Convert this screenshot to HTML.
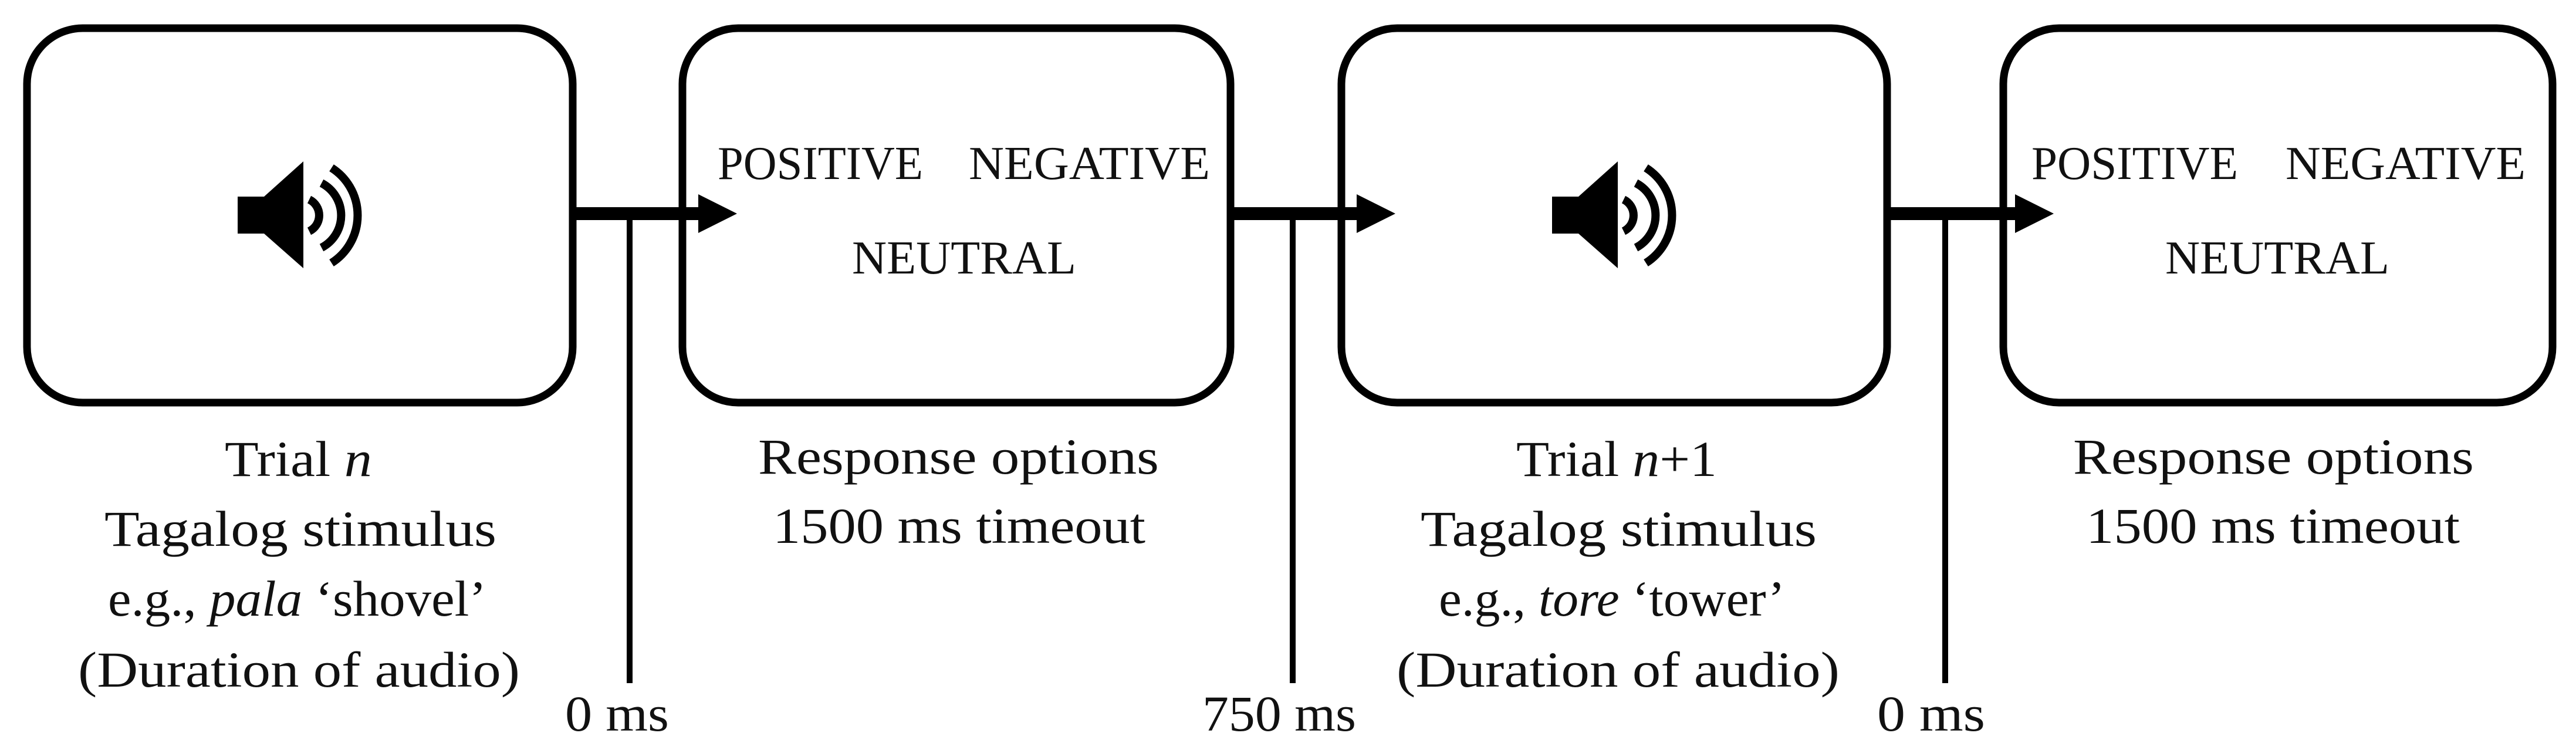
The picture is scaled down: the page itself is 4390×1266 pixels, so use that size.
<!DOCTYPE html>
<html><head><meta charset="utf-8"><style>
html,body{margin:0;padding:0;background:#fff;}
svg{display:block;}
text{font-family:"Liberation Serif",serif;fill:#111;}
</style></head><body>
<svg width="4390" height="1266" viewBox="0 0 4390 1266" xmlns="http://www.w3.org/2000/svg">
<defs>
<g id="spk">
<path d="M405 335 H450 L517 275 V457 L450 398 H405 Z" fill="#000"/>
<g fill="none" stroke="#000" stroke-width="14" stroke-linecap="butt">
<path d="M527 340 A30 30 0 0 1 527 394"/>
<path d="M548 312 A62 62 0 0 1 548 422"/>
<path d="M565 286 A96 96 0 0 1 565 448"/>
</g>
</g>
</defs>
<g fill="none" stroke="#000" stroke-width="13">
<rect x="46" y="48" width="930" height="638" rx="95"/>
<rect x="1163" y="48" width="934" height="638" rx="95"/>
<rect x="2286" y="48" width="930" height="638" rx="95"/>
<rect x="3414" y="48" width="936" height="638" rx="95"/>
</g>
<g fill="#000">
<rect x="976" y="353" width="220" height="22"/>
<polygon points="1190,331 1256,364 1190,397"/>
<rect x="2097" y="353" width="220" height="22"/>
<polygon points="2312,331 2378,364 2312,397"/>
<rect x="3216" y="353" width="220" height="22"/>
<polygon points="3434,331 3500,364 3434,397"/>
<rect x="1068" y="364" width="10" height="800"/>
<rect x="2198" y="364" width="10" height="800"/>
<rect x="3310" y="364" width="10" height="800"/>
</g>
<use href="#spk"/>
<use href="#spk" x="2240"/>
<g font-size="80">
<text x="1223" y="305" textLength="350" lengthAdjust="spacingAndGlyphs">POSITIVE</text>
<text x="1651" y="305" textLength="411" lengthAdjust="spacingAndGlyphs">NEGATIVE</text>
<text x="1452" y="466" textLength="382" lengthAdjust="spacingAndGlyphs">NEUTRAL</text>
<text x="3462" y="305" textLength="352" lengthAdjust="spacingAndGlyphs">POSITIVE</text>
<text x="3895" y="305" textLength="409" lengthAdjust="spacingAndGlyphs">NEGATIVE</text>
<text x="3690" y="466" textLength="382" lengthAdjust="spacingAndGlyphs">NEUTRAL</text>
</g>
<g font-size="86">
<text x="383" y="811" textLength="251" lengthAdjust="spacingAndGlyphs">Trial <tspan font-style="italic">n</tspan></text>
<text x="178" y="930" textLength="668" lengthAdjust="spacingAndGlyphs">Tagalog stimulus</text>
<text x="184" y="1049" textLength="645" lengthAdjust="spacingAndGlyphs">e.g., <tspan font-style="italic">pala</tspan> ‘shovel’</text>
<text x="133" y="1170" textLength="753" lengthAdjust="spacingAndGlyphs">(Duration of audio)</text>
<text x="1292" y="807" textLength="683" lengthAdjust="spacingAndGlyphs">Response options</text>
<text x="1317" y="925" textLength="635" lengthAdjust="spacingAndGlyphs">1500 ms timeout</text>
<text x="2584" y="811" textLength="342" lengthAdjust="spacingAndGlyphs">Trial <tspan font-style="italic">n</tspan>+1</text>
<text x="2421" y="930" textLength="675" lengthAdjust="spacingAndGlyphs">Tagalog stimulus</text>
<text x="2452" y="1049" textLength="590" lengthAdjust="spacingAndGlyphs">e.g., <tspan font-style="italic">tore</tspan> ‘tower’</text>
<text x="2380" y="1170" textLength="755" lengthAdjust="spacingAndGlyphs">(Duration of audio)</text>
<text x="3533" y="807" textLength="683" lengthAdjust="spacingAndGlyphs">Response options</text>
<text x="3555" y="925" textLength="637" lengthAdjust="spacingAndGlyphs">1500 ms timeout</text>
<text x="963" y="1245" textLength="177" lengthAdjust="spacingAndGlyphs">0 ms</text>
<text x="2049" y="1245" textLength="262" lengthAdjust="spacingAndGlyphs">750 ms</text>
<text x="3199" y="1245" textLength="184" lengthAdjust="spacingAndGlyphs">0 ms</text>
</g>
</svg>
</body></html>
